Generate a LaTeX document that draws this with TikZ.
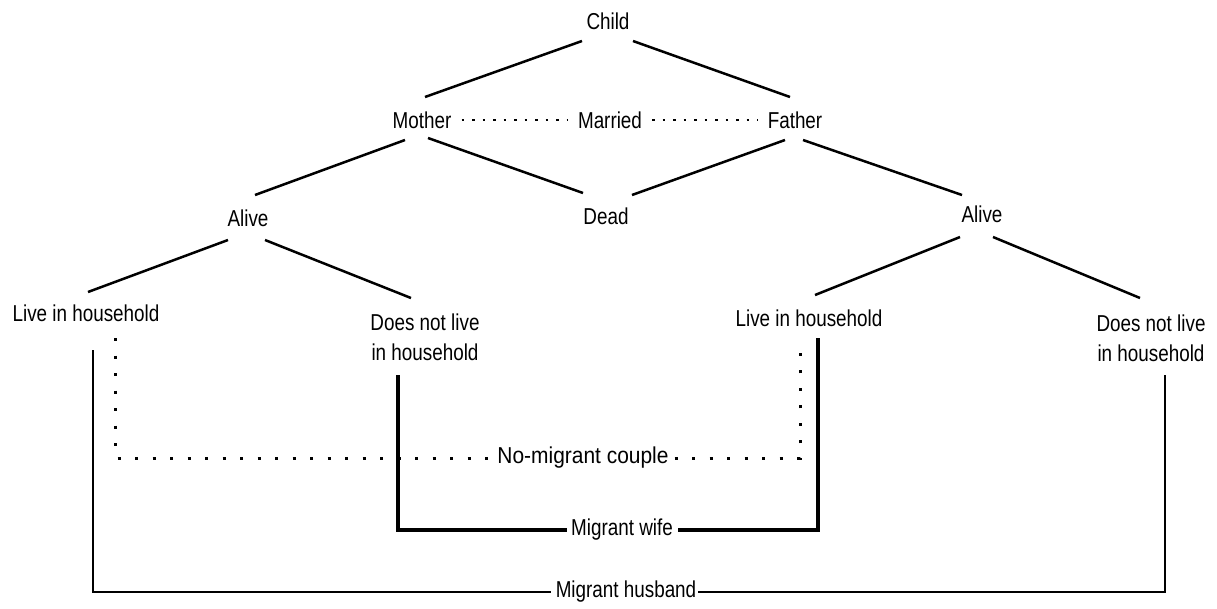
\documentclass[tikz,border=0pt]{standalone}
\usepackage{graphicx}
\usepackage{fontspec}
\setmainfont{Liberation Sans}[FakeStretch=0.82]
\begin{document}
\begin{tikzpicture}[x=1pt,y=-1pt,
  lbl/.style={inner sep=0pt,font=\fontsize{23}{30}\selectfont,align=center},
  branch/.style={line width=2.5pt},
  thinleg/.style={line width=2pt},
  thickleg/.style={line width=4pt},
  dotbig/.style={line width=3pt,dash pattern=on 3pt off 14.5pt},
  dotsmall/.style={line width=2.5pt,dash pattern=on 2.5pt off 8pt}]
\useasboundingbox (0,0) rectangle (1217,608);
\node[lbl] (child) at (608,21) {Child};
\node[lbl] (mother) at (422,120) {Mother};
\node[lbl] (married) at (610,120) {Married};
\node[lbl] (father) at (795,120) {Father};
\node[lbl] (dead) at (606,216) {Dead};
\node[lbl] (aliveL) at (248,218) {Alive};
\node[lbl] (aliveR) at (982,214) {Alive};
\node[lbl] (liveL) at (86,313) {Live in household};
\node[lbl] (notL) at (425,337) {Does not live\\in household};
\node[lbl] (liveR) at (809,318) {Live in household};
\node[lbl] (notR) at (1151,338) {Does not live\\in household};
\node[lbl] (nomig) at (583,458) {\scalebox{1.11}[1]{No-migrant couple}};
\node[lbl] (wife) at (622,530) {Migrant wife};
\node[lbl] (husband) at (626,592) {Migrant husband};
% tree branches
\draw[branch] ([xshift=-26pt,yshift=-20pt]child.center) -- ([xshift=3pt,yshift=23pt]mother.center);
\draw[branch] ([xshift=25pt,yshift=-20pt]child.center) -- ([xshift=-5pt,yshift=23pt]father.center);
\draw[branch] ([xshift=-17pt,yshift=-20pt]mother.center) -- ([xshift=7pt,yshift=23pt]aliveL.center);
\draw[branch] ([xshift=6pt,yshift=-18pt]mother.center) -- ([xshift=-23pt,yshift=23pt]dead.center);
\draw[branch] ([xshift=-10pt,yshift=-20pt]father.center) -- ([xshift=26pt,yshift=21pt]dead.center);
\draw[branch] ([xshift=8pt,yshift=-20pt]father.center) -- ([xshift=-20pt,yshift=19pt]aliveR.center);
\draw[branch] ([xshift=-20pt,yshift=-22pt]aliveL.center) -- ([xshift=2pt,yshift=21pt]liveL.center);
\draw[branch] ([xshift=17pt,yshift=-22pt]aliveL.center) -- ([xshift=-14pt,yshift=39pt]notL.center);
\draw[branch] ([xshift=-22pt,yshift=-23pt]aliveR.center) -- ([xshift=6pt,yshift=23pt]liveR.center);
\draw[branch] ([xshift=11pt,yshift=-23pt]aliveR.center) -- ([xshift=-11pt,yshift=40pt]notR.center);
% married
\draw[dotsmall] ([xshift=10pt]mother.east) -- ([xshift=-10pt]married.west);
\draw[dotsmall] ([xshift=10pt]married.east) -- ([xshift=-10pt]father.west);
% no-migrant couple
\draw[dotbig] ([xshift=29pt,yshift=-25pt]liveL.center) |- ([xshift=-6pt]nomig.west);
\draw[dotbig] ([xshift=6pt]nomig.east) -| ([xshift=-9pt,yshift=-22pt]liveR.center);
% migrant wife
\draw[thickleg] ([xshift=-27pt,yshift=-38pt]notL.center) |- ([xshift=-4pt]wife.west);
\draw[thickleg] ([xshift=5pt]wife.east) -| ([xshift=9pt,yshift=-20pt]liveR.center);
% migrant husband
\draw[thinleg] ([xshift=7pt,yshift=-37pt]liveL.center) |- ([xshift=-5pt]husband.west);
\draw[thinleg] ([xshift=2pt]husband.east) -| ([xshift=14pt,yshift=-37pt]notR.center);
\end{tikzpicture}
\end{document}
